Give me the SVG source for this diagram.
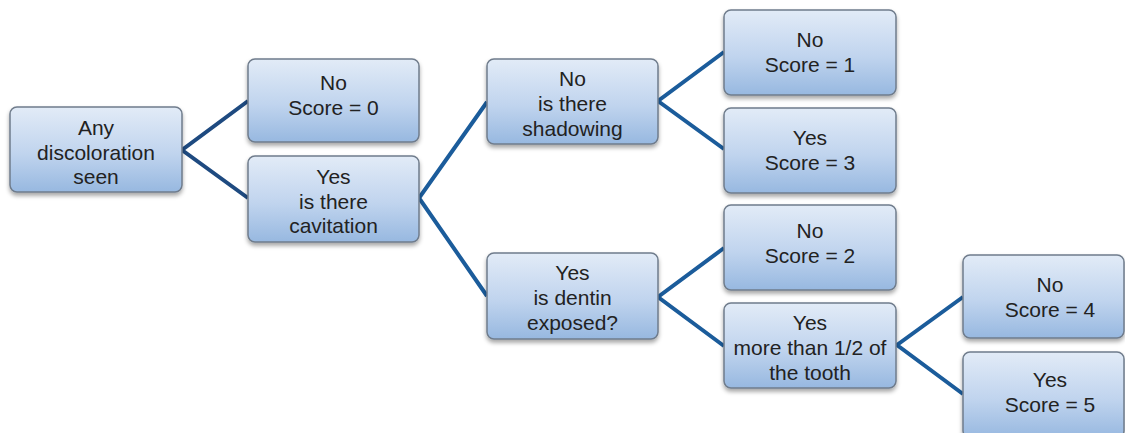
<svg xmlns="http://www.w3.org/2000/svg" width="1125" height="433" viewBox="0 0 1125 433">
<defs>
<linearGradient id="g" x1="0" y1="0" x2="0" y2="1">
<stop offset="0" stop-color="#e2ebf7"/>
<stop offset="0.55" stop-color="#c0d4ee"/>
<stop offset="1" stop-color="#97b8e0"/>
</linearGradient>
<filter id="sh" x="-10%" y="-10%" width="120%" height="130%">
<feDropShadow dx="0" dy="3" stdDeviation="2" flood-color="#000" flood-opacity="0.35"/>
</filter>
</defs>
<style>
.box{fill:url(#g);stroke:#6f7c8c;stroke-width:1.5;filter:url(#sh)}
text{font-family:"Liberation Sans",Arial,sans-serif;font-size:21px;fill:#222;text-anchor:middle}
.c1{stroke:#1e4a80;stroke-width:4;fill:none;stroke-linejoin:miter}
.c2{stroke:#1b5c9b;stroke-width:4;fill:none;stroke-linejoin:miter}
</style>
<rect width="1125" height="433" fill="#fff"/>
<g id="connectors">
<polyline class="c1" points="248,101 182,150 248,198"/>
<polyline class="c2" points="487,102 419,198 487,296"/>
<polyline class="c2" points="724,52 658,101 724,149"/>
<polyline class="c2" points="724,248 658,297 724,346"/>
<polyline class="c2" points="963,297 897,345 963,394"/>
</g>
<g id="n1"><rect class="box" x="10" y="107" width="172" height="85" rx="7"/>
<text x="96" y="135">Any</text><text x="96" y="160">discoloration</text><text x="96" y="184">seen</text></g>
<g id="n2"><rect class="box" x="248" y="59" width="171" height="83" rx="7"/>
<text x="333.5" y="90">No</text><text x="333.5" y="115">Score = 0</text></g>
<g id="n3"><rect class="box" x="248" y="156" width="171" height="86" rx="7"/>
<text x="333.5" y="184">Yes</text><text x="333.5" y="209">is there</text><text x="333.5" y="233">cavitation</text></g>
<g id="n4"><rect class="box" x="487" y="59" width="171" height="85" rx="7"/>
<text x="572.5" y="86">No</text><text x="572.5" y="111">is there</text><text x="572.5" y="136">shadowing</text></g>
<g id="n5"><rect class="box" x="487" y="253" width="171" height="86" rx="7"/>
<text x="572.5" y="280">Yes</text><text x="572.5" y="305">is dentin</text><text x="572.5" y="330">exposed?</text></g>
<g id="n6"><rect class="box" x="724" y="10" width="172" height="85" rx="7"/>
<text x="810" y="47">No</text><text x="810" y="72">Score = 1</text></g>
<g id="n7"><rect class="box" x="724" y="108" width="172" height="85" rx="7"/>
<text x="810" y="145">Yes</text><text x="810" y="170">Score = 3</text></g>
<g id="n8"><rect class="box" x="724" y="205" width="172" height="85" rx="7"/>
<text x="810" y="238">No</text><text x="810" y="263">Score = 2</text></g>
<g id="n9"><rect class="box" x="724" y="303" width="172" height="85" rx="7"/>
<text x="810" y="330">Yes</text><text x="810" y="355">more than 1/2 of</text><text x="810" y="380">the tooth</text></g>
<g id="n10"><rect class="box" x="963" y="255" width="161" height="83" rx="7"/>
<text x="1050" y="292">No</text><text x="1050" y="317">Score = 4</text></g>
<g id="n11"><rect class="box" x="963" y="352" width="161" height="86" rx="7"/>
<text x="1050" y="387">Yes</text><text x="1050" y="412">Score = 5</text></g>
</svg>
